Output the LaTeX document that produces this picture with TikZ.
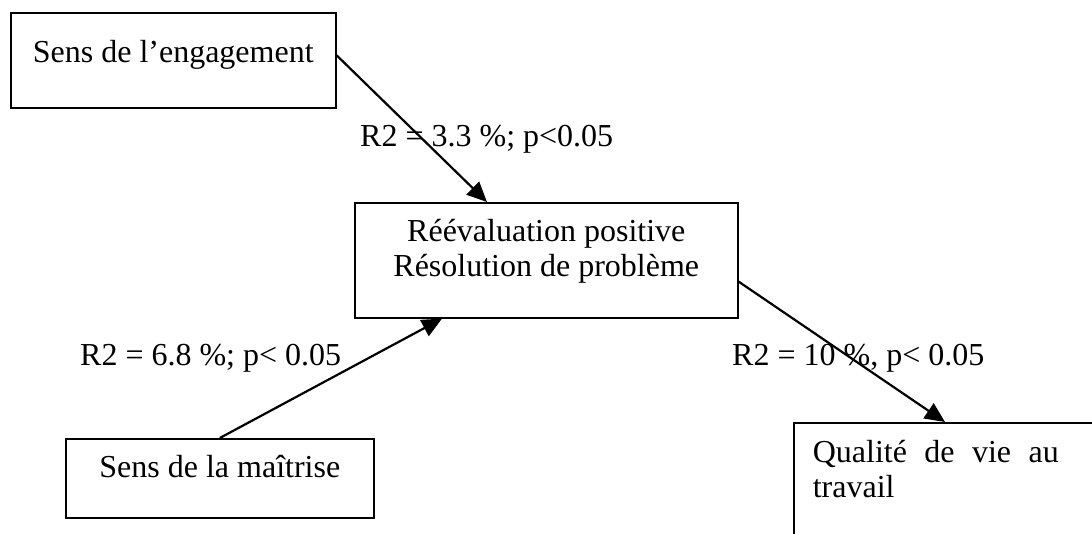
\documentclass[tikz,border=0pt]{standalone}
\usepackage{fontspec}
\setmainfont{Liberation Serif}
\usetikzlibrary{arrows.meta}

% framed block: width, height, top-to-first-baseline, text
\newcommand{\blockbody}[4]{\parbox[t][#2][t]{#1}{\centering\rule{0pt}{#3}#4}}

\tikzset{
  every node/.style={font=\fontsize{32pt}{35pt}\selectfont},
  block/.style={draw, line width=1.6pt, inner sep=0pt, anchor=north west},
  stat/.style={inner sep=0pt, anchor=base west},
  link/.style={line width=2.2pt, -{Triangle[length=20pt,width=18pt]}}
}

\begin{document}
\begin{tikzpicture}[x=1pt, y=-1pt]
  \useasboundingbox (0,0) rectangle (1092,533);
  \clip (0,0) rectangle (1092,533);

  % variables
  \node[block] (engage) at (10,12) {\blockbody{325pt}{95pt}{50pt}{Sens de l’engagement}};
  \node[block] (coping) at (354,202) {\blockbody{383pt}{115pt}{39pt}{Réévaluation positive\\Résolution de problème}};
  \node[block] (mastery) at (65,438) {\blockbody{308pt}{79pt}{39pt}{Sens de la maîtrise}};
  \node[block] (quality) at (793,422) {\parbox[t][130pt][t]{320pt}{%
      \leftskip=19pt \rightskip=55pt \tolerance=10000 \hyphenpenalty=10000
      \rule{0pt}{40pt}Qualité de vie au travail}};

  % regression statistics
  \node[stat] (statA) at (360,146) {R2 = 3.3 \%; p<0.05};
  \node[stat] (statB) at (80,365) {R2 = 6.8 \%; p< 0.05};
  \node[stat] (statC) at (732,365) {R2 = 10 \%, p< 0.05};

  % paths
  \draw[link] ([yshift=5pt]engage.east) -- ([xshift=133pt]coping.north west);
  \draw[link] (mastery.north) -- ([xshift=88pt]coping.south west);
  \draw[link] ([yshift=37pt]coping.south east) -- ([xshift=152pt]quality.north west);
\end{tikzpicture}
\end{document}
